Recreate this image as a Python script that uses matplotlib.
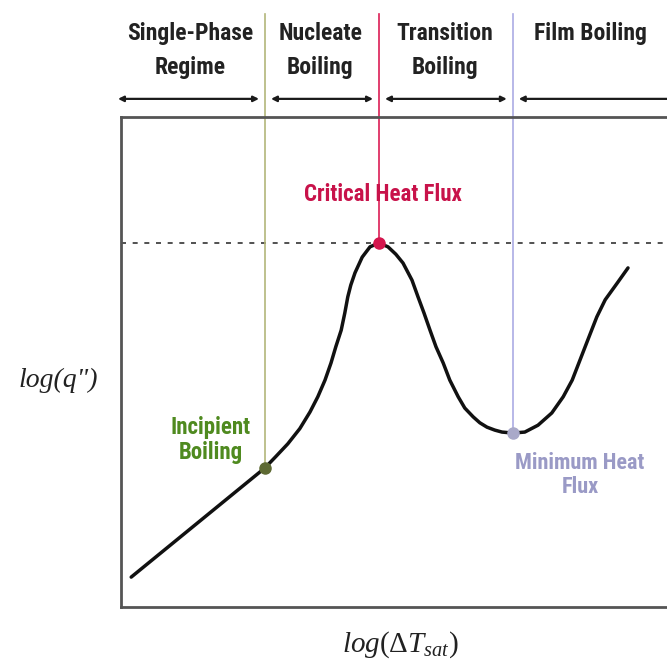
import matplotlib
matplotlib.use("Agg")
from matplotlib import pyplot as plt
from matplotlib import font_manager

#####
#
# Boiling curve, log(q") vs log(dT_sat)
#
#####

# curve (arbitrary log units)
log_dT = [0.17, 2.40, 2.58, 2.78, 2.98, 3.15, 3.28, 3.40, 3.50, 3.58,
          3.67, 3.73, 3.78, 3.83, 3.90, 4.02, 4.15, 4.30,
          4.45, 4.58, 4.70, 4.85, 4.95, 5.05, 5.15, 5.25, 5.37, 5.48,
          5.62, 5.73, 5.87, 5.98, 6.10, 6.23, 6.35, 6.53,
          6.73, 6.95, 7.18, 7.37, 7.52, 7.65, 7.78, 7.93, 8.07, 8.27, 8.45]
log_q = [0.61, 2.84, 3.07, 3.33, 3.64, 3.98, 4.29, 4.63, 4.98, 5.31,
         5.65, 6.00, 6.33, 6.57, 6.82, 7.14, 7.35, 7.43,
         7.35, 7.20, 7.02, 6.67, 6.33, 6.00, 5.65, 5.31, 4.98, 4.63,
         4.29, 4.06, 3.88, 3.76, 3.67, 3.61, 3.57, 3.55,
         3.57, 3.71, 3.96, 4.29, 4.63, 5.04, 5.45, 5.92, 6.27, 6.61, 6.92]

# special points
point_names = ["Incipient\nBoiling", "Critical Heat Flux", "Minimum Heat\nFlux"]
point_x = [2.40, 4.30, 6.53]
point_y = [2.84, 7.43, 3.55]

# regimes along the top
regime_names = ["Single-Phase\nRegime", "Nucleate\nBoiling",
                "Transition\nBoiling", "Film Boiling\n "]
regime_edges = [-0.15, 2.40, 4.30, 6.53, 10.5]
regime_centers = [1.15, 3.32, 5.40, 7.83]

available = {f.name for f in font_manager.fontManager.ttflist}
label_font = next((f for f in ["Roboto Condensed", "Liberation Sans Narrow",
                               "Roboto", "DejaVu Sans"] if f in available))

plt.rcParams['mathtext.fontset'] = 'custom'
plt.rcParams['mathtext.rm'] = 'Liberation Serif'
plt.rcParams['mathtext.it'] = 'Liberation Serif:italic'

fig = plt.figure(figsize=(6.67, 6.65), dpi=100)
# box runs off the right edge in the original
ax = fig.add_axes([121 / 667, 58 / 665, 600 / 667, 490 / 665])
ax.set_xlim(0, 10)
ax.set_ylim(0, 10)
ax.set_xticks([])
ax.set_yticks([])
for side in ["left", "bottom", "top", "right"]:
    ax.spines[side].set_color("#555555")
    ax.spines[side].set_linewidth(2.0)

line_colors = ["#b3b67a", "#dc1e55", "#ababe4"]
dot_colors = ["#5e6a33", "#d4164d", "#a9a9c9"]
text_colors = ["#4f8a1f", "#c8124a", "#9a9ac6"]

top = 12.1
for x, y, lc, dc in zip(point_x, point_y, line_colors, dot_colors):
    ax.plot([x, x], [y, top], color=lc, lw=1.2, clip_on=False, zorder=2)
    ax.plot(x, y, "o", color=dc, ms=8, zorder=5, clip_on=False)

# critical heat flux level
ax.plot([0, 10], [point_y[1], point_y[1]], color="#333333", lw=1.2,
        linestyle=(0, (3, 4)), zorder=1)

ax.plot(log_dT, log_q, color="#111111", lw=2.5, solid_joinstyle="round",
        solid_capstyle="round", zorder=4)

# regime arrows and names
arrow_y = 10.37
for i in range(len(regime_names)):
    x0, x1 = regime_edges[i] + 0.1, regime_edges[i + 1] - 0.1
    ax.annotate("", xy=(x1, arrow_y), xytext=(x0, arrow_y),
                arrowprops=dict(arrowstyle="<|-|>", color="#1a1a1a", lw=1.6,
                                mutation_scale=8, shrinkA=0, shrinkB=0),
                annotation_clip=False)
for cx, name in zip(regime_centers, regime_names):
    ax.text(cx, 11.36, name, ha="center", va="center", fontsize=17,
            family=label_font, fontweight="bold", color="#222222",
            linespacing=1.65, clip_on=False)

# point labels
label_pos = [(1.50, 3.41), (4.37, 8.41), (7.65, 2.69)]
label_size = [16.5, 16.5, 16]
for (tx, ty), name, tc, fs in zip(label_pos, point_names, text_colors, label_size):
    ax.text(tx, ty, name, ha="center", va="center", fontsize=fs,
            family=label_font, fontweight="bold", color=tc, linespacing=1.15)

fig.text(58 / 667, 1 - 380 / 665, 'log(q")', ha="center", va="center",
         fontsize=20, family="Liberation Serif", style="italic", color="#222222")
fig.text(400 / 667, 1 - 645 / 665, r"$log(\Delta T_{sat})$", ha="center",
         va="center", fontsize=21, color="#222222")

fig.savefig("out.png", dpi=100)
